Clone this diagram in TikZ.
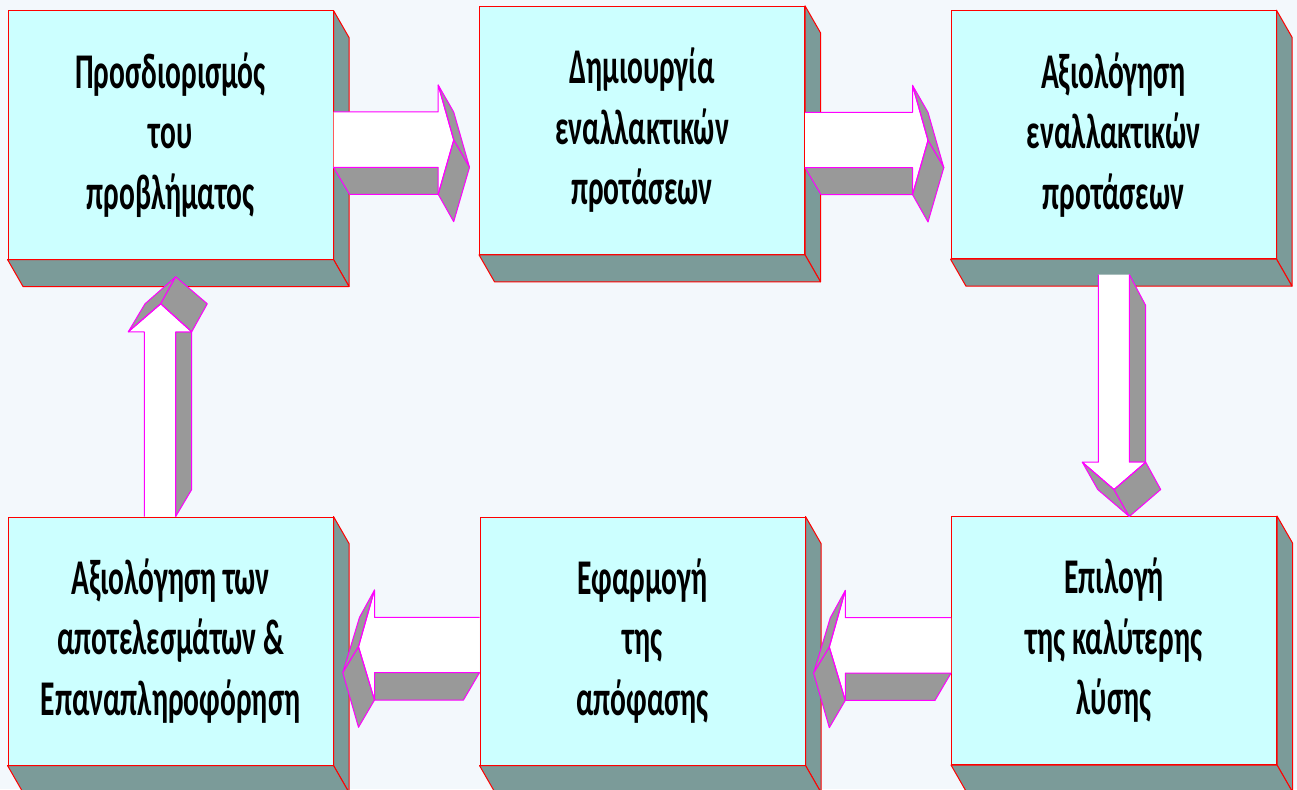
\documentclass[tikz,border=0pt]{standalone}
\usepackage{fontspec}
\newfontfamily\boxfont{Carlito}[FakeStretch=0.59]
\usetikzlibrary{calc}
\definecolor{bg}{HTML}{F3F8FC}
\definecolor{face}{HTML}{CCFFFF}
\definecolor{side}{HTML}{7B9B99}
\definecolor{agray}{HTML}{999999}
\definecolor{mag}{HTML}{FF00FF}
\tikzset{
 blk/.style={draw=red, line width=1pt, fill=face, minimum width=325pt, minimum height=248pt, inner sep=0pt, align=center, font=\boxfont\bfseries\fontsize{50}{60.5}\selectfont},
 depth/.style={draw=red, line width=1pt, fill=side, line join=round},
 agface/.style={fill=agray, draw=mag, line width=1pt, line join=round},
 awface/.style={fill=white},
 aline/.style={draw=mag, line width=1pt, line join=round},
}
\newcommand\RightBlk[2]{%
\begin{scope}[shift={#1}]
\fill[awface] (0,0) -- (#2,0) -- (#2,-27) -- ({#2+15.5},28) -- (#2,82.3) -- (#2,55.3) -- (0,55.3) -- cycle;
\draw[agface] (0,55.3) -- (#2,55.3) -- (#2,82.3) -- (16,82.3) -- cycle;
\draw[agface] (#2,-27) -- ({#2+15.5},0) -- ({#2+31.3},55.3) -- ({#2+15.5},28) -- cycle;
\draw[agface] ({#2+15.5},28) -- ({#2+31.3},55.3) -- ({#2+15.5},109.7) -- (#2,82.3) -- cycle;
\draw[aline] (0,0) -- (#2,0) -- (#2,-27) -- ({#2+15.5},28) -- (#2,82.3);
\end{scope}}
\newcommand\LeftBlk[2]{%
\begin{scope}[shift={#1}]
\fill[awface] (0,0) -- (-#2,0) -- (-#2,-27.3) -- ({-#2-16},29.4) -- (-#2,82.7) -- (-#2,55.4) -- (0,55.4) -- cycle;
\draw[agface] (-#2,55.4) -- (0,55.4) -- (-16,82.7) -- (-#2,82.7) -- cycle;
\draw[agface] (-#2,-27.3) -- ({-#2-15},0) -- ({-#2-31.7},55.4) -- ({-#2-16},29.4) -- cycle;
\draw[agface] ({-#2-16},29.4) -- ({-#2-31.7},55.4) -- ({-#2-16},110) -- (-#2,82.7) -- cycle;
\draw[aline] (0,0) -- (-#2,0) -- (-#2,-27.3) -- ({-#2-16},29.4) -- (-#2,82.7);
\end{scope}}
\newcommand\DownBlk[2]{%
\begin{scope}[shift={#1}]
\draw[agface] (31,0) -- (47.4,31) -- (47.4,#2) -- (31,#2) -- cycle;
\fill[awface] (0,0) -- (31,0) -- (31,#2) -- (47.4,#2) -- (15.7,{#2+27.3}) -- (-16,#2) -- (0,#2) -- cycle;
\draw[agface] (-16,#2) -- (-0.6,{#2+27.3}) -- (31,{#2+54.3}) -- (15.7,{#2+27.3}) -- cycle;
\draw[agface] (15.7,{#2+27.3}) -- (47.4,#2) -- (62.4,{#2+27.3}) -- (31,{#2+54.3}) -- cycle;
\draw[aline] (31,0) -- (31,#2) -- (47.4,#2) -- (15.7,{#2+27.3}) -- (-16,#2) -- (0,#2) -- (0,0);
\end{scope}}
\newcommand\UpBlk[2]{%
\begin{scope}[shift={#1}]
\draw[agface] (31.4,-#2) -- (47.4,-#2) -- (47.4,-27) -- (31.4,0) -- cycle;
\fill[awface] (0,0) -- (0,-#2) -- (-16,-#2) -- (16.4,{-#2-28}) -- (47.4,-#2) -- (31.4,-#2) -- (31.4,0) -- cycle;
\draw[agface] (-16,-#2) -- (0.7,{-#2-28}) -- (31.4,{-#2-55}) -- (16.4,{-#2-28}) -- cycle;
\draw[agface] (16.4,{-#2-28}) -- (31.4,{-#2-55}) -- (63,{-#2-28}) -- (47.4,-#2) -- cycle;
\draw[aline] (0,0) -- (0,-#2) -- (-16,-#2) -- (16.4,{-#2-28}) -- (47.4,-#2) -- (31.4,-#2) -- (31.4,0);
\end{scope}}
\begin{document}
\begin{tikzpicture}[x=1pt,y=-1pt]
\useasboundingbox (0,0) rectangle (1297,789);
\clip (0,0) rectangle (1297,789);
\fill[bg] (0,0) rectangle (1297,789);
\node[blk] (b1) at (170.5,135) {Προσδιορισμός\\του\\προβλήματος};
\node[blk] (b2) at (642,130.3) {Δημιουργία\\εναλλακτικών\\προτάσεων};
\node[blk] (b3) at (1113.5,134.7) {Αξιολόγηση\\εναλλακτικών\\προτάσεων};
\node[blk] (b4) at (170.5,641) {Αξιολόγηση των\\αποτελεσμάτων \&\\Επαναπληροφόρηση};
\node[blk] (b5) at (642.5,641) {Εφαρμογή\\της\\απόφασης};
\node[blk] (b6) at (1114,640.5) {Επιλογή\\της καλύτερης\\λύσης};
\foreach \b in {b1,b2,b3,b4,b5,b6}{
 \draw[depth] (\b.north east) -- ++(15.5,27) -- ($(\b.south east)+(15.5,27)$) -- (\b.south east) -- cycle;
 \draw[depth] (\b.south west) -- ++(15.5,27) -- ($(\b.south east)+(15.5,27)$) -- (\b.south east) -- cycle;
}
\RightBlk{($(b1.east)+(0,-23)$)}{104.7}
\RightBlk{($(b2.east)+(0,-18)$)}{107.5}
\DownBlk{($(b3.south)+(-15.2,15.3)$)}{187.7}
\LeftBlk{($(b6.west)+(0,-22.8)$)}{105.7}
\LeftBlk{($(b5.west)+(0,-23.7)$)}{105}
\UpBlk{($(b4.north)+(-26.2,0)$)}{184.7}
\end{tikzpicture}
\end{document}
